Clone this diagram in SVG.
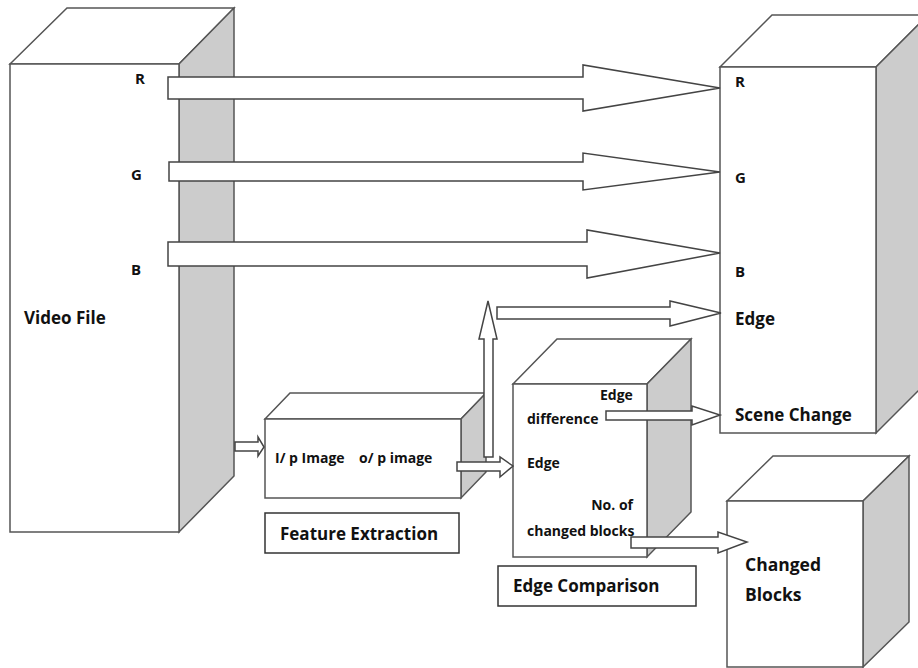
<svg xmlns="http://www.w3.org/2000/svg" width="918" height="668" viewBox="0 0 918 668">
<style>
.face{fill:#ffffff;stroke:#555555;stroke-width:1.5;stroke-linejoin:miter}
.side{fill:#cccccc;stroke:#555555;stroke-width:1.5}
.arrow{fill:#ffffff;stroke:#444444;stroke-width:1.5;stroke-linejoin:miter}
.box{fill:#ffffff;stroke:#333333;stroke-width:1.5}
text{font-family:"Open Sans","Liberation Sans",sans-serif;font-weight:bold;fill:#111111;white-space:pre}
.s13{font-size:14px}
.s14{font-size:15px}
.s16{font-size:17px}
.s17{font-size:17.5px}
</style>
<rect width="918" height="668" fill="#ffffff"/>
<g id="video-file">
<polygon class="face" points="10,64 67,8 234,8 179,64"/>
<polygon class="side" points="179,64 234,8 234,476 179,532"/>
<rect class="face" x="10" y="64" width="169" height="468"/>
<text class="s16" x="24" y="324">Video File</text>
<text class="s14" x="135" y="84">R</text>
<text class="s14" x="131" y="180">G</text>
<text class="s14" x="131" y="275">B</text>
</g>
<g id="scene-change">
<polygon class="face" points="720,67 772,15 928,15 876,67"/>
<polygon class="side" points="876,67 928,15 928,381 876,433"/>
<rect class="face" x="720" y="67" width="156" height="366"/>
<text class="s14" x="735" y="87">R</text>
<text class="s14" x="735" y="183">G</text>
<text class="s14" x="735" y="277">B</text>
<text class="s16" x="735" y="325">Edge</text>
<text class="s16" x="735" y="421">Scene Change</text>
</g>
<g id="feature-extraction">
<polygon class="face" points="265,419 290,393 486,393 461,419"/>
<polygon class="side" points="461,419 486,393 486,472 461,498"/>
<rect class="face" x="265" y="419" width="196" height="79"/>
<text class="s13" x="275" y="463">I/ p Image    o/ p image</text>
</g>
<g id="feature-extraction-label">
<rect class="box" x="265" y="513" width="194" height="40"/>
<text class="s16" x="280" y="540">Feature Extraction</text>
</g>
<g id="edge-comparison">
<polygon class="face" points="513,384 557,339 691,339 647,384"/>
<polygon class="side" points="647,384 691,339 691,512 647,557"/>
<rect class="face" x="513" y="384" width="134" height="173"/>
<text class="s13" x="600" y="400">Edge</text>
<text class="s13" x="527" y="424">difference</text>
<text class="s13" x="527" y="468">Edge</text>
<text class="s13" x="633" y="510" text-anchor="end">No. of</text>
<text class="s13" x="527" y="536">changed blocks</text>
</g>
<g id="edge-comparison-label">
<rect class="box" x="498" y="566" width="198" height="40"/>
<text class="s16" x="513" y="592">Edge Comparison</text>
</g>
<g id="changed-blocks">
<polygon class="face" points="727,501 773,456 909,456 863,501"/>
<polygon class="side" points="863,501 909,456 909,622 863,667"/>
<rect class="face" x="727" y="501" width="136" height="166"/>
<text class="s17" x="745" y="571">Changed</text>
<text class="s17" x="745" y="601">Blocks</text>
</g>
<g id="connectors">
<polygon class="arrow" points="168,77 583,77 583,65 720,88 583,111 583,99 168,99"/>
<polygon class="arrow" points="169,162 583,162 583,153 720,172 583,190 583,181 169,181"/>
<polygon class="arrow" points="168,242 587,242 587,230 720,253 587,278 587,266 168,266"/>
<polygon class="arrow" points="235,442 258,442 258,437 264,447 258,456 258,451 235,451"/>
<polygon class="arrow" points="457,462 500,462 500,457 513,466 500,477 500,471 457,471"/>
<polygon class="arrow" points="484,457 484,339 479,339 488,301 497,339 493,339 493,457"/>
<polygon class="arrow" points="497,307 670,307 670,301 721,313 670,326 670,319 497,319"/>
<polygon class="arrow" points="606,411 692,411 692,406 720,415 692,425 692,420 606,420"/>
<polygon class="arrow" points="631,537 718,537 718,532 747,542 718,553 718,548 631,548"/>
</g>
</svg>
